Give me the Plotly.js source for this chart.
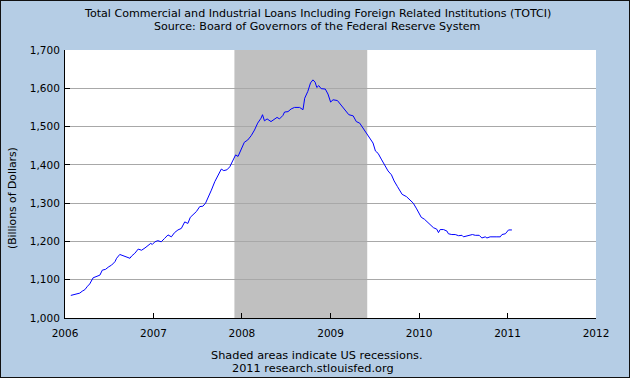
<!DOCTYPE html>
<html>
<head>
<meta charset="utf-8">
<script src="https://cdn.plot.ly/plotly-3.0.1.min.js"></script>
<style>
  html, body { margin: 0; padding: 0; background: #b5cde5; }
  #chart { width: 630px; height: 378px; position: absolute; left: 0; top: 0; }
  #frame { position: absolute; left: 0; top: 0; width: 630px; height: 378px; box-sizing: border-box; border: 1px solid #111; pointer-events: none; }
</style>
</head>
<body>
<div id="chart"></div>
<div id="frame"></div>
<script>
const titleLines = [
  "Total Commercial and Industrial Loans Including Foreign Related Institutions (TOTCI)",
  "Source: Board of Governors of the Federal Reserve System"
];
const yAxisTitle = "(Billions of Dollars)";
const footnotes = ["Shaded areas indicate US recessions.", "2011 research.stlouisfed.org"];

const recessionStart = ["2007-12-01"];
const recessionEnd = ["2009-06-01"];

const dates = [
  "2006-01-25","2006-02-10","2006-03-03","2006-03-13","2006-03-24","2006-04-04","2006-04-13","2006-04-27",
  "2006-05-11","2006-05-25","2006-06-04","2006-06-17","2006-07-01","2006-07-12","2006-07-26","2006-08-02",
  "2006-08-15","2006-08-29","2006-09-12","2006-09-26","2006-10-03","2006-10-16","2006-10-30","2006-11-13",
  "2006-11-27","2006-12-08","2006-12-21","2006-12-27",
  "2007-01-07","2007-01-19","2007-02-02","2007-02-16","2007-03-02","2007-03-16","2007-03-29","2007-04-12",
  "2007-04-26","2007-05-10","2007-05-23","2007-06-02","2007-06-13","2007-06-27","2007-07-11","2007-07-24",
  "2007-08-04","2007-08-14","2007-08-28","2007-09-11","2007-09-24","2007-10-08","2007-10-18","2007-10-31",
  "2007-11-12","2007-11-23","2007-12-06","2007-12-16","2007-12-30",
  "2008-01-11","2008-01-25","2008-02-08","2008-02-22","2008-03-06","2008-03-20","2008-03-26","2008-04-03",
  "2008-04-14","2008-04-30","2008-05-14","2008-05-25","2008-06-04","2008-06-18","2008-06-25","2008-07-09",
  "2008-07-22","2008-08-05","2008-08-26","2008-09-09","2008-09-16","2008-09-29","2008-10-10","2008-10-20",
  "2008-10-29","2008-11-05","2008-11-13","2008-11-23","2008-12-10","2008-12-21",
  "2009-01-01","2009-01-11","2009-01-29","2009-02-14","2009-02-28","2009-03-17","2009-04-04","2009-04-17",
  "2009-05-01","2009-05-15","2009-05-29","2009-06-12","2009-06-25","2009-07-05","2009-07-16","2009-07-29",
  "2009-08-13","2009-08-26","2009-09-09","2009-09-20","2009-10-04","2009-10-13","2009-10-23","2009-11-10",
  "2009-11-24","2009-12-08","2009-12-22",
  "2010-01-01","2010-01-10","2010-01-23","2010-02-06","2010-02-16","2010-03-01","2010-03-15","2010-03-22",
  "2010-03-29","2010-04-12","2010-04-26","2010-05-02","2010-05-16","2010-05-30","2010-06-13","2010-06-27",
  "2010-07-03","2010-07-17","2010-07-31","2010-08-09","2010-08-21","2010-09-06","2010-09-17","2010-10-01",
  "2010-10-08","2010-10-21","2010-11-18","2010-12-02","2010-12-09","2010-12-23",
  "2011-01-05","2011-01-19"
];
const values = [
  1059,1062,1065,1070,1074,1083,1089,1105,
  1109,1112,1125,1127,1134,1138,1147,1156,
  1166,1162,1160,1156,1162,1169,1180,1177,
  1183,1189,1195,1192,
  1199,1202,1199,1208,1217,1212,1223,1230,
  1234,1251,1247,1263,1269,1278,1291,1292,
  1300,1313,1334,1356,1374,1389,1385,1387,
  1395,1411,1426,1422,1440,
  1459,1465,1476,1491,1509,1522,1531,1515,
  1520,1513,1518,1524,1520,1529,1538,1539,
  1546,1550,1550,1544,1574,1592,1614,1622,
  1616,1602,1607,1599,1598,1585,
  1564,1570,1568,1555,1544,1531,1528,1513,
  1509,1496,1483,1470,1457,1436,1430,1415,
  1400,1384,1374,1358,1343,1332,1323,1317,
  1308,1300,1285,
  1273,1263,1258,1249,1243,1236,1232,1223,
  1231,1231,1227,1220,1218,1218,1215,1216,
  1212,1214,1217,1218,1216,1216,1209,1212,
  1209,1212,1212,1212,1218,1220,
  1230,1230
];

const xRange = ["2006-01-01", "2012-01-01"];
const yRange = [1000, 1700];

const fontFamily = "DejaVu Sans, Verdana, sans-serif";

const trace = {
  x: dates, y: values, type: "scatter", mode: "lines",
  line: { color: "#0000ff", width: 1 }, hoverinfo: "skip"
};

const shapes = recessionStart.map((s, i) => ({
  type: "rect", xref: "x", yref: "paper", x0: s, x1: recessionEnd[i], y0: 0, y1: 1,
  fillcolor: "#c0c0c0", line: { width: 0 }, layer: "below"
}));

const layout = {
  width: 630, height: 378,
  margin: { l: 65, r: 34, t: 50, b: 60 },
  paper_bgcolor: "#b5cde5",
  plot_bgcolor: "#ffffff",
  showlegend: false,
  font: { family: fontFamily, size: 10.5, color: "#000" },
  xaxis: {
    type: "date", range: xRange, dtick: "M12", tick0: "2006-01-01", tickformat: "%Y",
    ticks: "inside", ticklen: 5, tickcolor: "#000", tickwidth: 1,
    showline: true, linecolor: "#000", linewidth: 1,
    showgrid: false, zeroline: false, ticklabelstandoff: 5,
    tickfont: { family: fontFamily, size: 10.5, color: "#000" }
  },
  yaxis: {
    range: yRange, dtick: 100, tick0: 1000, tickformat: ",d",
    ticks: "inside", ticklen: 5, tickcolor: "#000", tickwidth: 1,
    showline: true, linecolor: "#000", linewidth: 1,
    showgrid: true, gridcolor: "#a8a8a8", gridwidth: 1, zeroline: false, ticklabelstandoff: 2,
    tickfont: { family: fontFamily, size: 10.5, color: "#000" }
  },
  shapes: shapes,
  annotations: [
    { text: titleLines[0], xref: "paper", yref: "paper", x: (317 - 65) / 531, y: (318 - 13.5) / 268,
      xanchor: "center", yanchor: "middle", showarrow: false, font: { family: fontFamily, size: 11.1, color: "#000" } },
    { text: titleLines[1], xref: "paper", yref: "paper", x: (317 - 65) / 531, y: (318 - 26.7) / 268,
      xanchor: "center", yanchor: "middle", showarrow: false, font: { family: fontFamily, size: 11.1, color: "#000" } },
    { text: yAxisTitle, xref: "paper", yref: "paper", x: (12 - 65) / 531, y: (318 - 198) / 268,
      xanchor: "center", yanchor: "middle", textangle: -90, showarrow: false,
      font: { family: fontFamily, size: 10.8, color: "#000" } },
    { text: footnotes[0], xref: "paper", yref: "paper", x: (317 - 65) / 531, y: (318 - 355) / 268,
      xanchor: "center", yanchor: "middle", showarrow: false, font: { family: fontFamily, size: 11.3, color: "#000" } },
    { text: footnotes[1], xref: "paper", yref: "paper", x: (313 - 65) / 531, y: (318 - 368) / 268,
      xanchor: "center", yanchor: "middle", showarrow: false, font: { family: fontFamily, size: 11.3, color: "#000" } }
  ]
};

Plotly.newPlot("chart", [trace], layout, { staticPlot: true, displayModeBar: false });
</script>
</body>
</html>
